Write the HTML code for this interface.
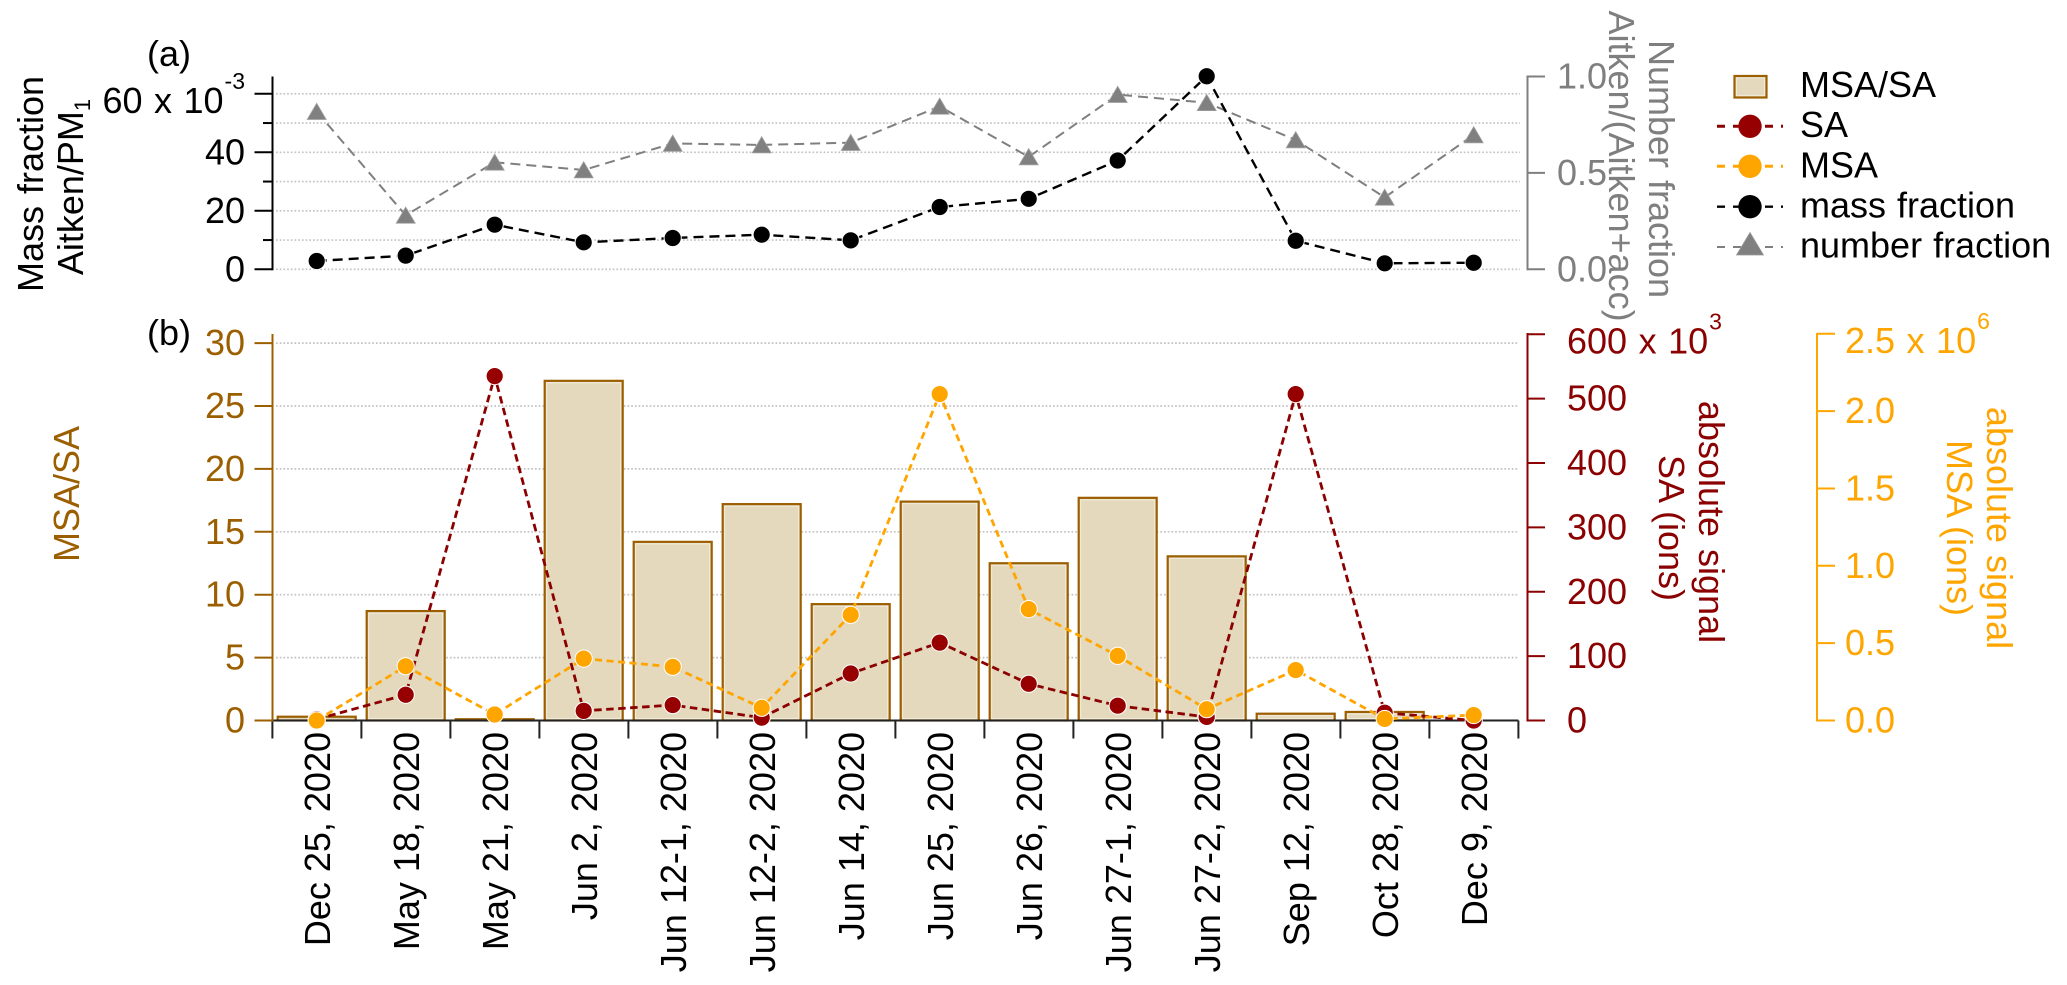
<!DOCTYPE html>
<html>
<head>
<meta charset="utf-8">
<title>MSA/SA chart</title>
<style>
html,body{margin:0;padding:0;background:#fff;}
svg{display:block;font-family:"Liberation Sans",Arial,sans-serif;font-size:36px;}
</style>
</head>
<body>
<svg id="chart" width="2067" height="985" viewBox="0 0 2067 985" xmlns="http://www.w3.org/2000/svg">
  <rect x="0" y="0" width="2067" height="985" fill="#fff"/>
  <g id="grid"></g>
  <g id="bars"></g>
  <g id="axes"></g>
  <g id="marks"></g>

  <text x="147" y="66">(a)</text>
  <text x="147" y="345">(b)</text>

  <text transform="translate(43,184) rotate(-90)" text-anchor="middle" word-spacing="2">Mass fraction</text>
  <text transform="translate(83,187) rotate(-90)" text-anchor="middle">Aitken/PM<tspan font-size="22" dy="7">1</tspan></text>
  <text transform="translate(1649,169) rotate(90)" text-anchor="middle" fill="#7f7f7f" word-spacing="2">Number fraction</text>
  <text transform="translate(1609,166) rotate(90)" text-anchor="middle" fill="#7f7f7f">Aitken/(Aitken+acc)</text>
  <text transform="translate(79,494) rotate(-90)" text-anchor="middle" fill="#9c5f00">MSA/SA</text>
  <text transform="translate(1699,522) rotate(90)" text-anchor="middle" fill="#8b0000" word-spacing="2">absolute signal</text>
  <text transform="translate(1659,528) rotate(90)" text-anchor="middle" fill="#8b0000">SA (ions)</text>
  <text transform="translate(1987,528) rotate(90)" text-anchor="middle" fill="#ffa500" word-spacing="2">absolute signal</text>
  <text transform="translate(1947,528) rotate(90)" text-anchor="middle" fill="#ffa500">MSA (ions)</text>

  <g>
    <g>
      <rect x="1734.5" y="76" width="32" height="21.5" fill="#e4d9bd" stroke="#9c5f00" stroke-width="2.2"/>
      <rect x="1736.4" y="77.9" width="28.2" height="17.7" fill="none" stroke="#f2ecdd" stroke-width="1"/>
      <text x="1800" y="97">MSA/SA</text>
    </g>
    <g>
      <line x1="1717" y1="126.3" x2="1783" y2="126.3" stroke="#8b0000" stroke-width="3" stroke-dasharray="8 8"/>
      <circle cx="1750" cy="126.3" r="11.7" fill="#960000"/>
      <text x="1800" y="137">SA</text>
    </g>
    <g>
      <line x1="1717" y1="166.3" x2="1783" y2="166.3" stroke="#ffa500" stroke-width="3" stroke-dasharray="8 8"/>
      <circle cx="1750" cy="166.3" r="11.7" fill="#ffa500"/>
      <text x="1800" y="177.5">MSA</text>
    </g>
    <g>
      <line x1="1717" y1="206.7" x2="1783" y2="206.7" stroke="#000" stroke-width="2.4" stroke-dasharray="8 8"/>
      <circle cx="1750" cy="206.7" r="11.7" fill="#000"/>
      <text x="1800" y="217.5" word-spacing="1">mass fraction</text>
    </g>
    <g>
      <line x1="1717" y1="247" x2="1783" y2="247" stroke="#7f7f7f" stroke-width="2" stroke-dasharray="8 8"/>
      <polygon points="1750,232.5 1763.5,255 1736.5,255" fill="#808080" stroke="#999" stroke-width="0.8"/>
      <text x="1800" y="257.5" word-spacing="1">number fraction</text>
    </g>
  </g>
</svg>
<script>
const categories = ['Dec 25, 2020','May 18, 2020','May 21, 2020','Jun 2, 2020','Jun 12-1, 2020','Jun 12-2, 2020','Jun 14, 2020','Jun 25, 2020','Jun 26, 2020','Jun 27-1, 2020','Jun 27-2, 2020','Sep 12, 2020','Oct 28, 2020','Dec 9, 2020'];
const massFraction = [2.85,4.67,15.26,9.22,10.7,11.84,9.9,21.3,24.1,37.2,66.0,9.77,2.05,2.25];
const numberFraction = [0.818,0.28,0.555,0.515,0.653,0.645,0.657,0.845,0.583,0.906,0.864,0.671,0.373,0.697];
const msaSaRatio = [0.3,8.7,0.1,27.0,14.2,17.2,9.25,17.4,12.5,17.7,13.05,0.54,0.68,0.0];
const saSignal = [2,40,535,15,24,4.5,73,121,57,23,5.5,507,12,0];
const msaSignal = [0,0.351,0.039,0.40,0.347,0.082,0.683,2.11,0.72,0.418,0.073,0.326,0.01,0.035];
const massTicks = [0,20,40,60];
const massMinorTicks = [10,30,50];
const massGrid = [0,10,20,30,40,50,60];
const numberTicks = [0,0.5,1];
const ratioTicks = [0,5,10,15,20,25,30];
const saTicks = [0,100,200,300,400,500,600];
const msaTicks = [0,0.5,1,1.5,2,2.5];

const BROWN = '#9c5f00', RED = '#8b0000', REDMARK = '#960000', ORANGE = '#ffa500', GRAY = '#7f7f7f';
const NS = 'http://www.w3.org/2000/svg';
const gridG = document.getElementById('grid');
const barsG = document.getElementById('bars');
const axesG = document.getElementById('axes');
const marksG = document.getElementById('marks');

const xCat = i => 316.7 + 89 * i;
const xEdge = i => 272.4 + 89 * i;
const yMass = v => 269.3 - v * 2.925;
const yNumber = v => 269.3 - v * 192.8;
const yRatio = v => 720.5 - v * 12.58;
const ySA = v => 720.5 - v * 0.6437;
const yMSA = v => 720.5 - v * 154.7;

function make(tag, parent, attrs) {
  const el = document.createElementNS(NS, tag);
  for (const k in attrs) el.setAttribute(k, attrs[k]);
  parent.appendChild(el);
  return el;
}

/* gridlines */
function gridLine(y, x2) {
  const g = make('line', gridG, {x1: 276, x2: x2, y1: y, y2: y, stroke: '#c2c2c2', 'stroke-width': 1.7, 'stroke-dasharray': '1.7 2'});
  
  
}
massGrid.forEach(v => gridLine(yMass(v), 1520));
ratioTicks.filter(v => v > 0).forEach(v => gridLine(yRatio(v), 1518));

/* bars */
msaSaRatio.forEach((v, i) => {
  const top = yRatio(v), h = 720.5 - top, x = xCat(i) - 39;
  const bar = make('rect', barsG, {x: x, y: top, width: 78, height: h, fill: '#e4d9bd', stroke: BROWN, 'stroke-width': 2.2});
  
  
  if (h > 4) {
    const inner = make('rect', barsG, {x: x + 2, y: top + 2, width: 74, height: h - 4, fill: 'none', stroke: '#f2ecdd', 'stroke-width': 1});
    
    
  }
});

/* axes */
function axisLine(x1, y1, x2, y2, color) {
  const l = make('line', axesG, {x1: x1, y1: y1, x2: x2, y2: y2, stroke: color, 'stroke-width': 2});
  
  
}
function tickLabel(x, y, anchor, color, str, sup) {
  const t = make('text', axesG, {x: x, y: y, 'text-anchor': anchor, fill: color, 'word-spacing': sup ? 1.5 : 0});
  
  
  t.textContent = str;
  if (sup) {
    const s = make('tspan', t, {'font-size': 23, dy: -24, dx: 1});
    s.textContent = sup;
  }
}

/* panel a left */
axisLine(272.5, 76.5, 272.5, 270.3, '#000');
massTicks.forEach(v => {
  axisLine(254.5, yMass(v), 272.5, yMass(v), '#000');
  if (v === 60) tickLabel(245, yMass(v) + 19, 'end', '#000', v + ' x 10', '-3');
  else tickLabel(245, yMass(v) + 12, 'end', '#000', String(v));
});
massMinorTicks.forEach(v => axisLine(263, yMass(v), 272.5, yMass(v), '#000'));

/* panel a right */
axisLine(1527.5, 75.5, 1527.5, 270.3, GRAY);
numberTicks.forEach(v => {
  axisLine(1527.5, yNumber(v), 1545, yNumber(v), GRAY);
  tickLabel(1557, yNumber(v) + 12, 'start', GRAY, v.toFixed(1));
});

/* panel b bottom */
axisLine(272.4, 720.5, xEdge(14), 720.5, '#222');
categories.forEach((c, i) => {
  axisLine(xEdge(i), 720.5, xEdge(i), 738.5, '#222');
  const t = make('text', axesG, {'text-anchor': 'end', transform: 'translate(' + (xCat(i) + 13.3) + ',732) rotate(-90)'});
  
  
  t.textContent = c;
});
axisLine(xEdge(14), 720.5, xEdge(14), 738.5, '#222');

/* panel b left */
axisLine(272.5, 334, 272.5, 721.5, BROWN);
ratioTicks.forEach(v => {
  axisLine(254.5, yRatio(v), 272.5, yRatio(v), BROWN);
  tickLabel(245, yRatio(v) + 12, 'end', BROWN, String(v));
});

/* panel b SA axis */
axisLine(1527.5, 333, 1527.5, 721.5, RED);
saTicks.forEach(v => {
  axisLine(1527.5, ySA(v), 1545, ySA(v), RED);
  if (v === 600) tickLabel(1567, ySA(v) + 19, 'start', RED, v + ' x 10', '3');
  else tickLabel(1567, ySA(v) + 12, 'start', RED, String(v));
});

/* panel b MSA axis */
axisLine(1817, 333, 1817, 721.5, ORANGE);
msaTicks.forEach(v => {
  axisLine(1817, yMSA(v), 1835, yMSA(v), ORANGE);
  if (v === 2.5) tickLabel(1845, yMSA(v) + 19, 'start', ORANGE, v.toFixed(1) + ' x 10', '6');
  else tickLabel(1845, yMSA(v) + 12, 'start', ORANGE, v.toFixed(1));
});

/* series lines and markers */
function seriesLine(values, yFn, color, width, dash) {
  const pts = values.map((v, i) => xCat(i) + ',' + yFn(v)).join(' ');
  const p = make('polyline', marksG, {points: pts, fill: 'none', stroke: color, 'stroke-width': width, 'stroke-dasharray': dash});
  return p;
}
function circles(values, yFn, color, halo, name) {
  values.forEach((v, i) => {
    const c = make('circle', marksG, {cx: xCat(i), cy: yFn(v), r: 8.6, fill: color, stroke: halo, 'stroke-width': 1});
    
    
  });
}

const numberLine = seriesLine(numberFraction, yNumber, GRAY, 2, '10 6');


numberFraction.forEach((v, i) => {
  const x = xCat(i), y = yNumber(v);
  const tri = make('polygon', marksG, {points: x + ',' + (y - 8.3) + ' ' + (x + 9.5) + ',' + (y + 7.9) + ' ' + (x - 9.5) + ',' + (y + 7.9), fill: '#808080', stroke: '#a0a0a0', 'stroke-width': 0.8});
  
  
});

const massLine = seriesLine(massFraction, yMass, '#000', 2.4, '10 6');


circles(massFraction, yMass, '#000', '#fff', 'mass-fraction-point');

const saLine = seriesLine(saSignal, ySA, RED, 2.8, '7.5 4.5');


const msaLine = seriesLine(msaSignal, yMSA, ORANGE, 2.8, '7 4.5');


circles(saSignal, ySA, REDMARK, '#fff', 'sa-point');
circles(msaSignal, yMSA, ORANGE, '#fff', 'msa-point');
</script>
</body>
</html>
